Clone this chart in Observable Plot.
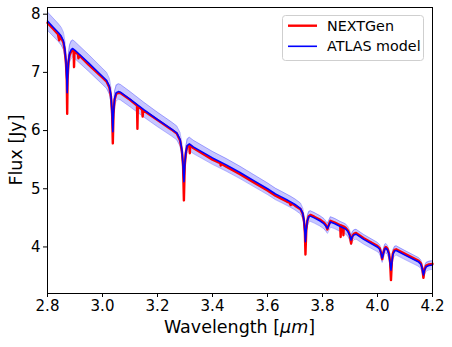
<!DOCTYPE html>
<html><head><meta charset="utf-8">
<script src="https://cdn.jsdelivr.net/npm/d3@7"></script>
<script src="https://cdn.jsdelivr.net/npm/@observablehq/plot@0.6"></script>
<style>body{margin:0;background:#fff;} #chart{width:452px;height:347px;}</style>
</head><body><div id="chart"></div>
<script>
const seriesNames = ["NEXTGen", "ATLAS model"];
const xTicks = [2.8, 3.0, 3.2, 3.4, 3.6, 3.8, 4.0, 4.2];
const yTicks = [4, 5, 6, 7, 8];

const atlasWave = [2.800,2.820,2.840,2.850,2.858,2.863,2.867,2.870,2.8716,2.873,2.876,2.880,2.886,2.892,2.900,2.950,3.000,3.015,3.025,3.031,3.035,3.0375,3.040,3.044,3.050,3.058,3.065,3.100,3.150,3.200,3.250,3.270,3.282,3.289,3.293,3.296,3.299,3.303,3.308,3.316,3.330,3.400,3.450,3.500,3.550,3.600,3.629,3.650,3.670,3.684,3.700,3.720,3.728,3.733,3.736,3.738,3.741,3.745,3.750,3.756,3.770,3.790,3.805,3.812,3.818,3.822,3.829,3.845,3.865,3.884,3.893,3.899,3.904,3.909,3.915,3.922,3.950,3.999,4.008,4.013,4.017,4.021,4.026,4.030,4.036,4.042,4.046,4.049,4.052,4.056,4.062,4.068,4.100,4.150,4.158,4.163,4.167,4.171,4.177,4.187,4.200];
const atlasFlux = [7.88,7.78,7.68,7.62,7.54,7.40,7.20,6.90,6.65,6.90,7.18,7.32,7.39,7.41,7.38,7.16,6.93,6.86,6.76,6.60,6.30,5.98,6.30,6.55,6.65,6.67,6.66,6.54,6.36,6.19,6.03,5.96,5.85,5.66,5.40,5.12,5.40,5.62,5.74,5.77,5.72,5.53,5.41,5.28,5.14,5.00,4.91,4.86,4.81,4.775,4.73,4.66,4.58,4.45,4.25,4.09,4.30,4.45,4.52,4.53,4.50,4.45,4.40,4.36,4.32,4.36,4.43,4.40,4.35,4.31,4.26,4.20,4.12,4.18,4.21,4.22,4.13,4.00,3.96,3.89,3.81,3.88,3.96,3.98,3.95,3.87,3.72,3.60,3.72,3.87,3.93,3.94,3.86,3.74,3.70,3.62,3.52,3.60,3.66,3.68,3.69];
const atlasFracErr = 0.02;

const nextgenWave = [2.800,2.820,2.838,2.8425,2.844,2.850,2.858,2.863,2.867,2.870,2.8716,2.873,2.876,2.880,2.886,2.892,2.895,2.8965,2.898,2.911,2.9125,2.914,2.950,3.000,3.015,3.025,3.031,3.035,3.0375,3.040,3.044,3.050,3.058,3.065,3.100,3.1255,3.127,3.1285,3.1445,3.146,3.1475,3.200,3.250,3.270,3.282,3.289,3.293,3.296,3.299,3.303,3.308,3.316,3.3175,3.319,3.330,3.400,3.428,3.430,3.432,3.450,3.500,3.550,3.600,3.629,3.650,3.670,3.680,3.684,3.690,3.700,3.720,3.728,3.733,3.736,3.738,3.741,3.745,3.750,3.756,3.770,3.790,3.805,3.812,3.818,3.822,3.829,3.845,3.8645,3.866,3.8675,3.8745,3.876,3.8775,3.884,3.893,3.899,3.904,3.909,3.915,3.922,3.950,3.999,4.008,4.013,4.017,4.021,4.026,4.030,4.036,4.042,4.046,4.049,4.052,4.056,4.062,4.068,4.100,4.150,4.158,4.163,4.167,4.171,4.177,4.187,4.200];
const nextgenFlux = [7.85,7.75,7.655,7.55,7.645,7.59,7.51,7.37,7.17,6.87,6.29,6.87,7.15,7.29,7.36,7.38,7.37,7.09,7.36,7.31,7.24,7.30,7.13,6.91,6.84,6.74,6.58,6.28,5.78,6.28,6.53,6.63,6.65,6.645,6.53,6.43,6.03,6.42,6.355,6.24,6.35,6.18,6.02,5.95,5.83,5.64,5.39,4.80,5.39,5.61,5.73,5.75,5.61,5.745,5.70,5.50,5.44,5.40,5.43,5.38,5.25,5.11,4.97,4.88,4.83,4.78,4.76,4.72,4.745,4.71,4.65,4.57,4.44,4.24,3.87,4.29,4.45,4.53,4.55,4.52,4.47,4.42,4.38,4.30,4.37,4.45,4.42,4.37,4.17,4.37,4.355,4.20,4.35,4.33,4.28,4.21,4.06,4.19,4.23,4.24,4.15,4.02,3.98,3.90,3.79,3.89,3.97,4.00,3.97,3.89,3.73,3.43,3.73,3.89,3.95,3.96,3.88,3.76,3.72,3.63,3.47,3.61,3.68,3.70,3.71];

const atlas = atlasWave.map((w, i) => ({w, f: atlasFlux[i], lo: atlasFlux[i] * (1 - atlasFracErr), hi: atlasFlux[i] * (1 + atlasFracErr)}));
const nextgen = nextgenWave.map((w, i) => ({w, f: nextgenFlux[i]}));

const FONT = "DejaVu Sans";
const plot = Plot.plot({
  width: 452, height: 347,
  marginTop: 7, marginBottom: 54, marginLeft: 47, marginRight: 20,
  style: {fontFamily: FONT, fontSize: "15px", color: "black", background: "white", overflow: "visible"},
  x: {domain: [2.8, 4.2]},
  y: {domain: [3.2, 8.115]},
  marks: [
    Plot.areaY(atlas, {x: "w", y1: "lo", y2: "hi", fill: "#0000ff", fillOpacity: 0.22}),
    Plot.line(atlas, {x: "w", y: "lo", stroke: "#0000ff", strokeOpacity: 0.28, strokeWidth: 1}),
    Plot.line(atlas, {x: "w", y: "hi", stroke: "#0000ff", strokeOpacity: 0.28, strokeWidth: 1}),
    Plot.line(nextgen, {x: "w", y: "f", stroke: "#ff0000", strokeWidth: 2.4}),
    Plot.line(atlas, {x: "w", y: "f", stroke: "#0000ff", strokeWidth: 1.6}),
    Plot.axisX({ticks: xTicks, tickFormat: d3.format(".1f"), tickSize: 4, tickPadding: 3, fontSize: 15, label: null, stroke: "black"}),
    Plot.axisY({ticks: yTicks, tickFormat: d3.format("d"), tickSize: 4, tickPadding: 3, fontSize: 15, label: null, stroke: "black"}),
    Plot.frame({stroke: "black", strokeWidth: 1})
  ]
});
document.getElementById("chart").appendChild(plot);

const svg = d3.select(plot);
// axis labels
const xl = svg.append("text").attr("x", 239.5).attr("y", 333).attr("text-anchor", "middle")
  .attr("font-family", FONT).attr("font-size", 17.5).attr("fill", "black");
xl.append("tspan").text("Wavelength [");
xl.append("tspan").attr("font-style", "italic").text("μm");
xl.append("tspan").text("]");
svg.append("text").attr("transform", "translate(22,150) rotate(-90)").attr("text-anchor", "middle")
  .attr("font-family", FONT).attr("font-size", 17.5).attr("fill", "black").text("Flux [Jy]");

// legend
const lg = svg.append("g").attr("text-anchor", "start");
lg.append("rect").attr("x", 282.5).attr("y", 15.5).attr("width", 141).attr("height", 45).attr("rx", 3)
  .attr("fill", "white").attr("fill-opacity", 0.8).attr("stroke", "#cfcfcf").attr("stroke-width", 1);
const legendColors = ["#ff0000", "#0000ff"];
const legendWidths = [2.4, 1.6];
seriesNames.forEach((name, i) => {
  const y = 25.7 + i * 20.6;
  lg.append("line").attr("x1", 288).attr("x2", 317).attr("y1", y).attr("y2", y)
    .attr("stroke", legendColors[i]).attr("stroke-width", legendWidths[i]);
  lg.append("text").attr("x", 327).attr("y", y + 5).attr("text-anchor", "start").attr("font-family", FONT).attr("font-size", 14.3)
    .attr("fill", "black").text(name);
});
</script>
</body></html>
